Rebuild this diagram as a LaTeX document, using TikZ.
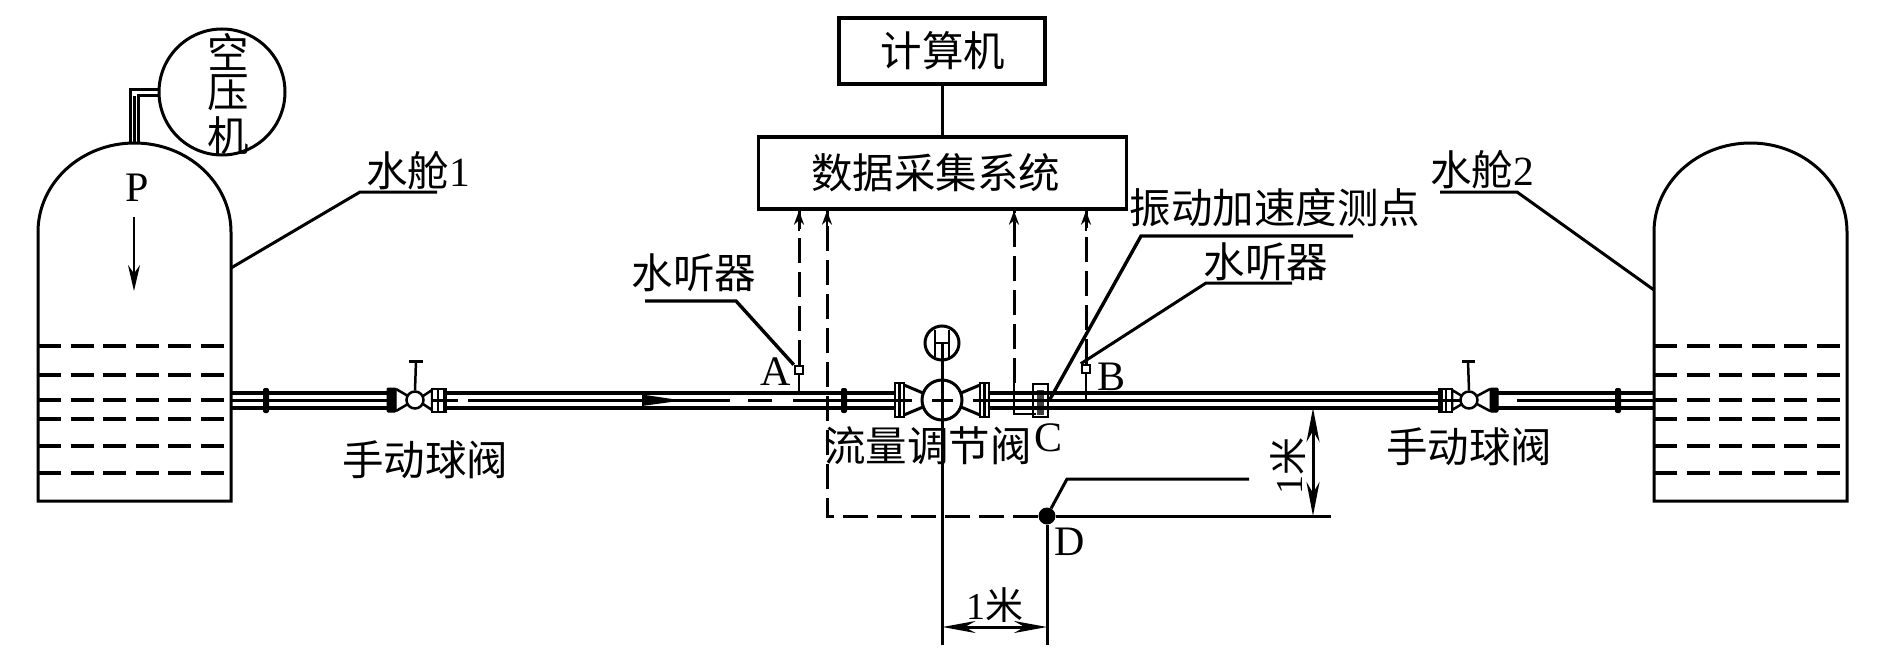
\documentclass[tikz,border=0pt]{standalone}
\usepackage{fontspec}
\setmainfont{Liberation Serif}
\newfontfamily\cjk{Noto Sans CJK SC}
\usetikzlibrary{arrows.meta,calc}
\tikzset{
  x=1pt,y=-1pt,
  ln/.style={line width=3pt,black,line cap=butt},
  core/.style={line width=2.6pt,black},
  thick ln/.style={line width=3.4pt,black},
  thin ln/.style={line width=2.5pt,black},
  water/.style={line width=3.2pt,black,dash pattern=on 23pt off 9.5pt},
  sig/.style={line width=3pt,black,dash pattern=on 25pt off 9pt},
  head/.style={-{Stealth[length=14pt,width=10pt]}},
  txt/.style={inner sep=0pt,font=\fontsize{41.5}{42}\selectfont\cjk},
  lat/.style={inner sep=0pt,font=\fontsize{42}{42}\selectfont},
  dimtxt/.style={inner sep=0pt,font=\fontsize{38}{38}\selectfont},
  box/.style={draw=black,line width=3.4pt,inner sep=0pt,font=\fontsize{41.5}{42}\selectfont\cjk},
  blk/.style={fill=black,draw=black,line width=1pt,rounded corners=1pt},
}
\begin{document}
\begin{tikzpicture}
\useasboundingbox (0,0) rectangle (1890,661);
\fill[white] (0,0) rectangle (1890,661);

% ---------- water tanks
\foreach \l/\r in {38/231,1654/1847}{
  \draw[ln] (\l,232) arc[x radius={(\r-\l)/2},y radius=-89,start angle=180,end angle=0] -- (\r,501) -- (\l,501) -- cycle;
  \foreach \y in {346,375,400,419,446,473}{
    \draw[water] (\l,\y) -- (\r,\y);
  }
}
\coordinate (tankOneSide) at (231,268);
\coordinate (tankTwoSide) at (1654,290);

% ---------- air compressor
\node[circle,draw=black,line width=3pt,minimum size=126pt,inner sep=0pt,fill=white] (comp) at (222,92) {};
\node[txt] (k1) at (228,52) {空};
\node[txt] (k2) at (228,93) {压};
\node[txt] (k3) at (228,136) {机};
\draw[ln] (comp.west |- 0,89) -- (130.5,89) -- (130.5,143);
\draw[ln] (comp.west |- 0,95) -- (138.5,95) -- (138.5,143);
\draw[thin ln] (134.5,96) -- (134.5,143);

\node[lat] (p) at (137,188) {P};
\coordinate (pEnd) at (134,291);
\draw[thin ln,-{Stealth[length=26pt,width=12pt]}] (134,217) -- (pEnd);

% ---------- pipe
\draw[thick ln] (231,393) -- (1654,393);
\draw[thick ln] (231,408) -- (1654,408);
\draw[core] (231,400.5) -- (458,400.5);
\draw[core] (468,400.5) -- (730,400.5);
\draw[core] (748,400.5) -- (772,400.5);
\draw[core] (793,400.5) -- (895,400.5);
\draw[core] (989,400.5) -- (1438,400.5);
\draw[core] (1517,400.5) -- (1654,400.5);
% flow arrow
\fill[black] (642,394.5) -- (682,400.5) -- (642,406) -- cycle;
% flanges
\foreach \x in {266,844,1618}{
  \fill[black,rounded corners=2pt] (\x-3,388) rectangle (\x+3,413);
}

% ---------- manual ball valve 1
\fill[white] (395,386) rectangle (446,415);
\fill[blk] (387,388) rectangle (396,412);
\draw[thin ln] (396,389) -- (408,396) (396,411) -- (408,404);
\draw[thin ln,fill=white] (423,396) -- (432,390) -- (432,410) -- (423,404);
\draw[thin ln,fill=white] (432,389) rectangle (446,412);
\draw[core] (432,400.5) -- (458,400.5);
\draw[thick ln] (444.5,388) -- (444.5,412);
\draw[thin ln] (438,389) -- (438,412);
\node[circle,draw=black,line width=2.5pt,fill=white,minimum size=17pt,inner sep=0pt] (vOne) at (415,400) {};
\draw[thin ln] (vOne.north) -- (416,361);
\draw[ln] (409,361) -- (423,361);

% ---------- manual ball valve 2
\fill[white] (1439,386) rectangle (1490,415);
\fill[blk] (1490,388) rectangle (1498,412);
\draw[thin ln] (1490,389) -- (1477,396) (1490,411) -- (1477,404);
\draw[thin ln,fill=white] (1462,396) -- (1452,390) -- (1452,410) -- (1462,404);
\draw[thin ln,fill=white] (1439,389) rectangle (1452,412);
\draw[core] (1425,400.5) -- (1462,400.5);
\draw[thick ln] (1441,388) -- (1441,412);
\draw[thin ln] (1446,389) -- (1446,412);
\node[circle,draw=black,line width=2.5pt,fill=white,minimum size=17pt,inner sep=0pt] (vTwo) at (1469,400) {};
\draw[thin ln] (vTwo.north) -- (1468,361);
\draw[ln] (1462,361) -- (1475,361);

% ---------- flow control valve
\fill[white] (895,383) rectangle (989,417);
\draw[thin ln] (895,383) rectangle (904,417);
\draw[thin ln] (899.5,383) -- (899.5,417);
\draw[thin ln] (980,383) rectangle (989,417);
\draw[thin ln] (984.5,383) -- (984.5,417);
\draw[ln] (904,385) -- (923,393) (904,415) -- (923,407);
\draw[ln] (980,385) -- (961,393) (980,415) -- (961,407);
\draw[thin ln] (895,400.5) -- (912,400.5) (973,400.5) -- (989,400.5);
\node[circle,draw=black,line width=3pt,fill=white,minimum size=40pt,inner sep=0pt] (fcv) at (942,400) {};
\draw[thin ln] (932,400.5) -- (953,400.5);
\node[circle,draw=black,line width=3pt,minimum size=34pt,inner sep=0pt] (wheel) at (942,343) {};
\draw[thin ln] (935,330) -- (935,357) (949,330) -- (949,357) (935,343) -- (949,343);

% ---------- datum lines and dimensions
\node[circle,fill=black,minimum size=17pt,inner sep=0pt] (d) at (1047,516) {};
\coordinate (axisBottom) at (942.5,645);
\coordinate (dBottom) at (1047,645);
\draw[ln] (942.5,343) -- (axisBottom);
\draw[ln] (d) -- (dBottom);
\draw[ln] (d) -- (1331,516);
\draw[ln] (d) -- (1067,479) -- (1249,479);
\draw[ln,{Stealth[length=33pt,width=12pt]}-{Stealth[length=33pt,width=12pt]}] (axisBottom |- 0,627) -- (dBottom |- 0,627);
\draw[ln,{Stealth[length=34pt,width=13pt]}-{Stealth[length=34pt,width=13pt]}] (1313,408) -- (1313,516);
\node[dimtxt] (m1) at (995,605) {1{\cjk 米}};
\node[dimtxt,rotate=90] (m2) at (1288,466) {1{\cjk 米}};

% ---------- computer and DAQ
\node[box,minimum width=206pt,minimum height=66pt] (pc) at (942,51) {\hspace*{2pt}计算机};
\node[box,minimum width=368pt,minimum height=72pt] (daq) at (942.5,173) {\hspace*{-14pt}数据采集系统};
\draw[ln] (pc.south) -- (pc.south |- daq.north);

% ---------- sensors
\node[draw=black,line width=2.5pt,fill=white,minimum size=8pt,inner sep=0pt] (a) at (799,370) {};
\node[draw=black,line width=2.5pt,fill=white,minimum size=8pt,inner sep=0pt] (b) at (1086,369) {};
\coordinate (aPipe) at (799,393);
\coordinate (bPipe) at (1086,402);
\draw[thin ln] (a) -- (aPipe);
\draw[thin ln] (b) -- (bPipe);
\draw[sig] (a.north) -- (a |- daq.south);
\draw[sig] (b.north) -- (b |- daq.south);

\coordinate (dLeft) at (827,516);
\coordinate (cTap) at (1014,383);
\draw[sig] (d) -- (dLeft) -- (dLeft |- daq.south);
\draw[sig] (cTap) -- (cTap |- daq.south);
\draw[thin ln] (cTap) -- (1014,414) -- (1036,414);
% solid ends with arrowheads at the acquisition box
\foreach \p in {a,b,dLeft,cTap}{
  \draw[thin ln,head] ($(\p |- daq.south)+(0,20)$) -- (\p |- daq.south);
}

% vibration point C
\node[draw=black,line width=2.5pt,minimum width=15pt,minimum height=33pt,inner sep=0pt] (c) at (1040.5,400.5) {};
\fill[black,opacity=.75] (1037,390) rectangle (1044,415);

% ---------- leaders
\draw[ln] (tankOneSide) -- (360,192) -- (437,192);
\draw[ln] (tankTwoSide) -- (1517,192) -- (1440,192);
\draw[thick ln] (a.north west) -- (736,301) -- (645,301);
\draw[ln] (b.north west) -- (1206,283) -- (1292,283);
\draw[thick ln] (c.east) -- (1141,236) -- (1353,236);

% ---------- labels
\node[inner sep=0pt,font=\fontsize{41.5}{42}\selectfont] (t1) at (418,171) {{\cjk 水舱}1};
\node[inner sep=0pt,font=\fontsize{41.5}{42}\selectfont] (t2) at (1482,170) {{\cjk 水舱}2};
\node[txt] (h1) at (694,273) {水听器};
\node[txt] (h2) at (1266,262) {水听器};
\node[txt] (vib) at (1275,208) {振动加速度测点};
\node[txt] (lv) at (425,460) {手动球阀};
\node[txt] (rv) at (1469,447) {手动球阀};
\node[txt] (fv) at (928,446) {流量调节阀};
\node[lat] (la) at (776,372) {A};
\node[lat] (lb) at (1111,377) {B};
\node[lat] (lc) at (1048,438) {C};
\node[lat] (ld) at (1070,542) {D};
\end{tikzpicture}
\end{document}
